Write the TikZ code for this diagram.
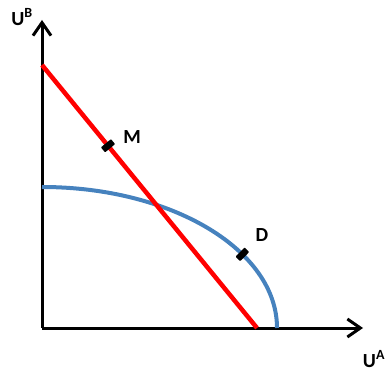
\documentclass[tikz,border=0pt]{standalone}
\usepackage{fontspec}
\setmainfont{Carlito}
\usepackage{xcolor}
\usetikzlibrary{arrows.meta,positioning}
\definecolor{curveblue}{RGB}{70,130,190}

\begin{document}
\begin{tikzpicture}[
  x=1pt, y=1pt,
  axis/.style={draw=black, line width=3pt, -{Straight Barb[length=13pt, width=18pt]}},
  budget/.style={draw=red, line width=4.5pt},
  frontier/.style={draw=curveblue, line width=4pt},
  tick/.style={fill=black, rounded corners=0.8pt, inner sep=0pt,
    minimum width=6.5pt, minimum height=13pt},
  lbl/.style={font=\fontsize{20}{22}\selectfont\bfseries, inner sep=1pt}
]
  \useasboundingbox (0,0) rectangle (390,372);

  % Axes
  \coordinate (O) at (42,44);
  \coordinate (ytop) at (42,352);
  \coordinate (xend) at (363,44);
  \draw[axis] (O) -- (ytop);
  \draw[axis] (O) -- (xend);
  \node[lbl] (UB) at (22,355) {U\textsuperscript{B}};
  \node[lbl] (UA) at (374,13) {U\textsuperscript{A}};

  % Frontier curve
  \coordinate (ftop) at (42,185);
  \draw[frontier] (ftop) arc[start angle=90, end angle=0, x radius=235, y radius=141];
  \path (O) ++(31.5:235 and 141) node[tick, rotate=-44.6] (D) {};
  \node[lbl] (Dlbl) at (262,137) {D};

  % Straight line
  \coordinate (rtop) at (42,307);
  \coordinate (rbot) at (257,44);
  \draw[budget] (rtop) -- node[tick, sloped, pos=0.307] (M) {} (rbot);
  \node[lbl] (Mlbl) at (132,235) {M};
\end{tikzpicture}
\end{document}
